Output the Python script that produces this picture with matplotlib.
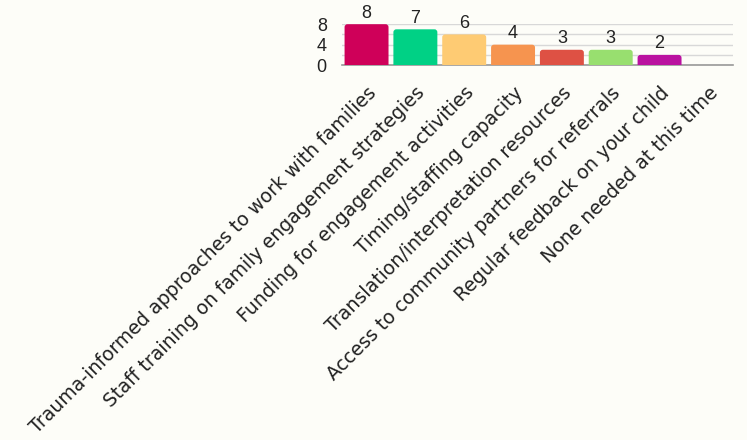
import matplotlib
matplotlib.use("Agg")
import matplotlib.pyplot as plt
from matplotlib.patches import FancyBboxPatch

categories = [
    "Trauma-informed approaches to work with families",
    "Staff training on family engagement strategies",
    "Funding for engagement activities",
    "Timing/staffing capacity",
    "Translation/interpretation resources",
    "Access to community partners for referrals",
    "Regular feedback on your child",
    "None needed at this time",
]
counts = [8, 7, 6, 4, 3, 3, 2, 0]
colors = ["#CF0059", "#00D185", "#FECB73", "#F6944F", "#DE5144",
          "#98DF6F", "#BA12A0", "#888888"]
yticks = [0, 4, 8]

bg = "#FDFDF8"
num_font = ["Liberation Sans", "DejaVu Sans"]
plt.rcParams["font.family"] = ["DejaVu Sans"]

fig = plt.figure(figsize=(7.47, 4.40), dpi=100, facecolor=bg)
ax = fig.add_axes([0.458, 0.852, 0.523, 0.093])
ax.set_facecolor(bg)

x = list(range(len(categories)))
bars = ax.bar(x, counts, width=0.9, color=colors)
ax.set_xlim(-0.5, len(categories) - 0.5)
ax.set_ylim(0, 8)

# swap plain rectangles for ones with rounded corners
for b in bars:
    b.set_visible(False)
    if b.get_height() == 0:
        continue
    rb = FancyBboxPatch((b.get_x(), -1), b.get_width(), b.get_height() + 1,
                        boxstyle="round,pad=0,rounding_size=0.06",
                        mutation_aspect=9.5, facecolor=b.get_facecolor(),
                        edgecolor="none", zorder=3)
    ax.add_patch(rb)

for xi, v in zip(x, counts):
    if v > 0:
        ax.text(xi, v + 0.5, str(v), ha="center", va="bottom", fontsize=13,
                color="#222222", family=num_font, zorder=4)

ax.set_yticks(yticks)
ax.set_yticks([2, 6], minor=True)
ax.grid(axis="y", which="both", color="#D8D8D8", linewidth=1, zorder=0)
ax.set_axisbelow(True)
ax.tick_params(axis="y", which="both", length=0, pad=11, labelsize=13,
               labelcolor="#222222")
for t in ax.get_yticklabels():
    t.set_family(num_font)
ax.set_xticks(x)
ax.set_xticklabels(categories, rotation=45, ha="right",
                   rotation_mode="anchor", fontsize=13.6, color="#222222")
ax.tick_params(axis="x", length=0, pad=13)
for s in ["top", "right", "left"]:
    ax.spines[s].set_visible(False)
ax.spines["bottom"].set_color("#999999")
ax.spines["bottom"].set_linewidth(1.2)

fig.savefig("out.png", dpi=100, facecolor=bg)
